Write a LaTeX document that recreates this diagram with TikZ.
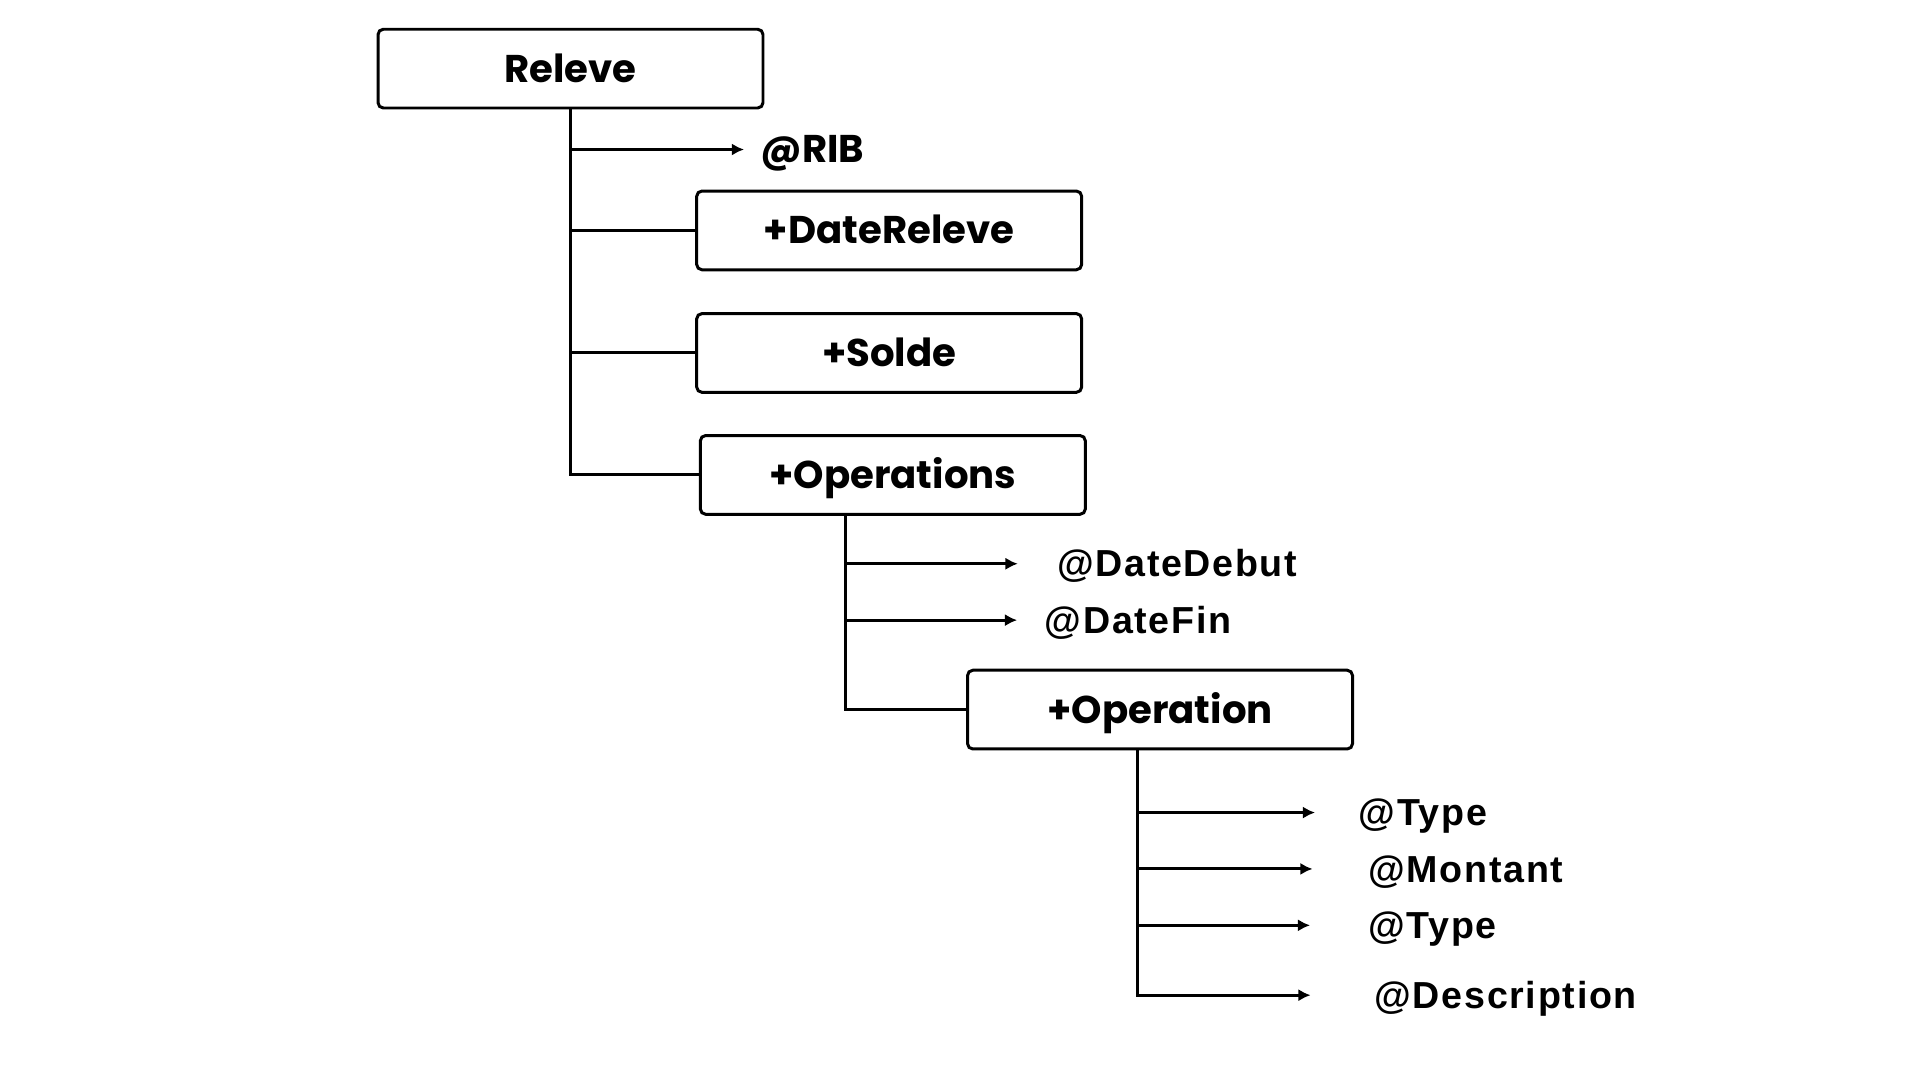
\documentclass[tikz,border=0pt]{standalone}
\usepackage{fontspec}
\newfontfamily\boitefont{Poppins}
\newfontfamily\attrfont[LetterSpace=4.5]{Liberation Sans}
\usetikzlibrary{arrows.meta}
\begin{document}
\begin{tikzpicture}[x=0.012256cm,y=-0.012256cm,
		boite/.style={draw,line width=0.85pt,rounded corners=1.5pt,minimum width=109.5pt,minimum height=22.4pt,inner sep=0pt,text height=9pt,text depth=1.3pt,font=\boitefont\bfseries\fontsize{11}{12}\selectfont},
		attr/.style={anchor=west,inner sep=0pt,text height=9.5pt,text depth=2pt,font=\attrfont\bfseries\fontsize{10.7}{12}\selectfont},
		attrb/.style={anchor=west,inner sep=0pt,text height=9.5pt,text depth=2pt,font=\boitefont\bfseries\fontsize{11}{12}\selectfont},
		lien/.style={line width=0.85pt},
		fleche/.style={line width=0.85pt,-{Latex[length=3.5pt,width=3.5pt]}}]
		\useasboundingbox (0,0) rectangle (1566.6,881.2);
		\node[boite] (releve) at (465.5,56) {Releve};
		\node[boite] (datereleve) at (725.5,188) {+DateReleve};
		\node[boite] (solde) at (725.5,288) {+Solde};
		\node[boite] (operations) at (728.5,387.5) {+Operations};
		\node[boite] (operation) at (946.5,579) {+Operation};
		\node[attrb] (rib) at (620,122) {@RIB};
		\node[attr] (datedebut) at (862,460) {@DateDebut};
		\node[attr] (datefin) at (852,506) {@DateFin};
		\node[attr] (type1) at (1108,663) {@Type};
		\node[attr] (montant) at (1116,709) {@Montant};
		\node[attr] (type2) at (1116,755) {@Type};
		\node[attr] (description) at (1121,812) {@Description};
		\draw[lien] (releve.south) |- (operations.west);
		\draw[lien] (releve.south |- datereleve.west) -- (datereleve.west);
		\draw[lien] (releve.south |- solde.west) -- (solde.west);
		\draw[fleche] (releve.south |- rib.west) -- ([xshift=-4.5pt]rib.west);
		\coordinate (opsbas) at ([xshift=-13.5pt]operations.south);
		\draw[lien] (opsbas) |- (operation.west);
		\draw[fleche] (opsbas |- datedebut.west) -- ([xshift=-11pt]datedebut.west);
		\draw[fleche] (opsbas |- datefin.west) -- ([xshift=-7.7pt]datefin.west);
		\coordinate (opbas) at ([xshift=-6.5pt]operation.south);
		\draw[fleche] (opbas) |- ([xshift=-18pt]description.west);
		\draw[fleche] (opbas |- type1.west) -- ([xshift=-12.2pt]type1.west);
		\draw[fleche] (opbas |- montant.west) -- ([xshift=-15.7pt]montant.west);
		\draw[fleche] (opbas |- type2.west) -- ([xshift=-16.4pt]type2.west);
\end{tikzpicture}
\end{document}
